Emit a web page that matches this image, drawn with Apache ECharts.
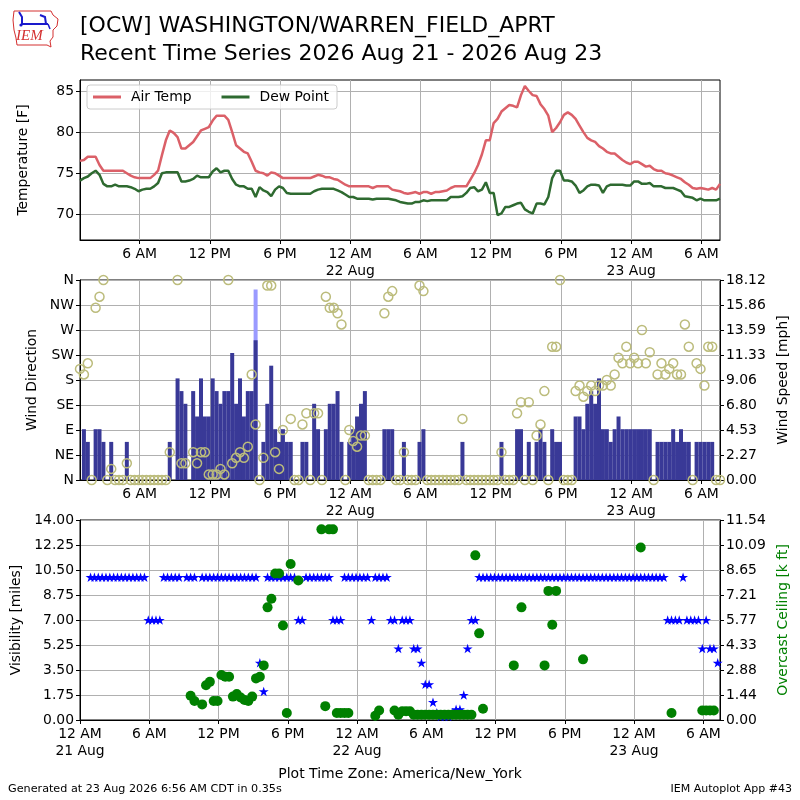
<!DOCTYPE html>
<html><head><meta charset="utf-8">
<script src="https://cdn.jsdelivr.net/npm/echarts@6/dist/echarts.min.js"></script>
<style>html,body{margin:0;padding:0;background:#fff}#c{width:800px;height:800px}</style>
</head><body><div id="c"></div><script>
// ---- observation clock: AWOS reports every 20 minutes, first at 00:55 EDT 21 Aug ----
const obsStartHour = 0.9167;   // hours after 00:00 21 Aug
const obsStepHour = 1 / 3;

// ---- x-axis ticks (hours after 00:00 21 Aug) ----
const tickHours = [0, 6, 12, 18, 24, 30, 36, 42, 48, 54];
const tickLabels = ['12 AM\n21 Aug', '6 AM', '12 PM', '6 PM', '12 AM\n22 Aug', '6 AM', '12 PM', '6 PM', '12 AM\n23 Aug', '6 AM'];

// ---- panel 1: temperature [F] ----
const tempTicks = [70, 75, 80, 85];
const airTemp = [
 76.5,76.6,77.0,77.0,77.0,76.0,75.3,75.3,75.3,75.3,
 75.3,75.3,75.0,74.7,74.5,74.4,74.4,74.4,74.4,74.8,
 75.3,77.2,79.0,80.2,79.9,79.4,78.0,78.0,78.4,78.8,
 79.5,80.2,80.4,80.6,81.4,82.0,82.0,82.0,81.5,80.0,
 78.4,78.0,77.6,77.4,76.4,75.3,75.1,75.0,74.7,75.1,
 75.0,74.7,74.4,74.4,74.4,74.4,74.4,74.4,74.4,74.4,
 74.6,74.8,74.7,74.5,74.5,74.3,74.2,73.9,73.6,73.4,
 73.4,73.4,73.4,73.4,73.4,73.2,73.4,73.4,73.4,73.4,
 73.0,72.9,72.8,72.6,72.5,72.6,72.7,72.5,72.7,72.7,
 72.5,72.7,72.7,72.8,72.9,73.2,73.4,73.4,73.4,73.4,
 74.2,75.0,76.0,77.3,79.0,79.0,81.1,81.6,82.5,82.9,
 83.3,83.2,83.0,84.5,85.6,85.0,84.5,84.4,83.4,82.8,
 82.0,80.0,80.5,81.2,82.1,82.4,82.1,81.6,80.8,80.0,
 79.3,79.0,78.8,78.3,78.0,77.6,77.4,77.4,77.0,76.6,
 76.3,76.1,76.4,76.4,76.1,75.8,75.9,75.5,75.3,75.3,
 75.0,74.9,74.7,74.5,74.3,73.9,73.6,73.2,73.1,73.2,
 73.1,73.0,73.2,73.0,73.7];
const dewPoint = [
 74.1,74.4,74.6,75.0,75.3,74.8,73.7,73.4,73.4,73.6,
 73.4,73.4,73.4,73.3,73.1,72.8,73.0,73.1,73.1,73.4,
 73.8,75.0,75.1,75.1,75.1,75.1,74.0,74.0,74.1,74.3,
 74.7,74.5,74.5,74.5,75.2,75.6,75.1,75.3,75.3,74.3,
 73.6,73.4,73.4,73.1,73.1,72.1,73.3,72.9,72.7,72.2,
 73.0,73.4,73.2,72.6,72.5,72.5,72.5,72.5,72.5,72.5,
 72.8,73.0,73.1,73.1,73.1,73.1,72.9,72.7,72.4,72.1,
 72.1,71.9,71.9,71.9,71.9,71.8,71.9,71.9,71.9,71.9,
 71.8,71.7,71.5,71.4,71.3,71.3,71.5,71.5,71.7,71.6,
 71.7,71.7,71.7,71.7,71.7,72.1,72.1,72.1,72.2,72.6,
 73.2,73.3,72.8,73.0,73.9,72.6,72.6,69.9,70.1,70.9,
 70.9,71.1,71.3,71.4,70.6,70.3,70.1,71.3,71.3,71.2,
 72.1,74.4,75.3,75.3,74.1,74.1,74.0,73.5,72.6,72.9,
 73.4,73.6,73.6,73.5,72.6,73.4,73.6,73.6,73.6,73.6,
 73.5,73.5,74.0,74.0,73.7,73.7,73.8,73.4,73.4,73.4,
 73.2,73.2,73.2,73.0,72.8,72.2,72.1,72.0,71.7,71.9,
 71.7,71.7,71.7,71.7,71.9];

// ---- panel 2: wind ----
const dirTicks = [0, 45, 90, 135, 180, 225, 270, 315, 360];
const dirLabels = ['N', 'NE', 'E', 'SE', 'S', 'SW', 'W', 'NW', 'N'];
const speedTickLabels = ['0.00', '2.27', '4.53', '6.80', '9.06', '11.33', '13.59', '15.86', '18.12'];
const KT_TO_MPH = 1.15078;
const windKt = [
 0,4,3,0,4,4,3,0,3,0,
 0,0,3,0,0,0,0,0,0,0,
 0,0,0,3,null,8,7,6,null,7,
 5,8,5,5,8,7,6,7,7,10,
 6,8,5,7,7,11,0,3,6,9,
 4,3,4,3,3,0,0,3,3,0,
 6,4,0,4,6,6,7,3,0,3,
 4,5,6,7,0,0,0,0,4,4,
 4,0,0,3,0,0,0,3,4,0,
 0,0,0,0,0,0,0,0,3,0,
 0,0,0,0,0,0,0,0,3,0,
 0,0,4,4,0,3,0,3,4,3,
 0,4,3,3,0,0,0,5,5,4,
 6,7,6,8,4,4,3,4,5,4,
 4,4,4,4,4,4,4,0,3,3,
 3,3,4,3,4,3,3,0,3,3,
 3,3,3,0,0];
const gustKt = [
 null,null,null,null,null,null,null,null,null,null,
 null,null,null,null,null,null,null,null,null,null,
 null,null,null,null,null,null,null,null,null,null,
 null,null,null,null,null,null,null,null,null,null,
 null,null,null,null,null,15,null,null,null,null];
const windDir = [
 200,190,210,0,310,330,360,0,20,0,
 0,0,30,0,0,0,0,0,0,0,
 0,0,0,50,null,360,30,30,null,50,
 30,50,50,10,10,10,20,10,360,30,
 40,50,40,60,190,100,0,40,350,350,
 50,20,90,null,110,0,0,100,120,0,
 120,120,0,330,310,310,300,280,0,90,
 70,60,80,80,0,0,0,0,300,330,
 340,0,0,50,0,0,0,350,340,0,
 0,0,0,0,0,0,0,0,110,0,
 0,0,0,0,0,0,0,0,50,0,
 0,0,120,140,0,140,0,80,100,160,
 0,240,240,360,0,0,0,160,170,150,
 160,170,160,170,170,180,170,190,220,210,
 240,210,220,210,270,210,230,0,190,210,
 190,200,210,190,190,280,240,0,210,200,
 170,240,240,0,0];

// ---- panel 3: visibility [miles] and overcast ceiling [k ft] ----
const visTickLabels = ['0.00', '1.75', '3.50', '5.25', '7.00', '8.75', '10.50', '12.25', '14.00'];
const ceilTickLabels = ['0.00', '1.44', '2.88', '4.33', '5.77', '7.21', '8.65', '10.09', '11.54'];
const visibility = [
 10,10,10,10,10,10,10,10,10,10,
 10,10,10,10,10,7,7,7,7,10,
 10,10,10,10,null,10,10,10,null,10,
 10,10,10,10,10,10,10,10,10,10,
 10,10,10,10,4,2,10,10,10,10,
 10,10,10,10,7,7,10,10,10,10,
 10,10,10,7,7,7,10,10,10,10,
 10,10,10,7,10,10,10,10,7,7,
 5,7,7,7,5,5,4,2.5,2.5,1.25,
 0.5,0.25,0.25,0.25,0.5,0.75,0.75,1.75,5,7,
 7,10,10,10,10,10,10,10,10,10,
 10,10,10,10,10,10,10,10,10,10,
 10,10,10,10,10,10,10,10,10,10,
 10,10,10,10,10,10,10,10,10,10,
 10,10,10,10,10,10,10,10,10,10,
 7,7,7,7,10,7,7,7,7,5,
 7,5,5,4,5];
const ceiling = [
 null,null,null,null,null,null,null,null,null,null,
 null,null,null,null,null,null,null,null,null,null,
 null,null,null,null,null,null,1.4,1.1,null,0.9,
 2.0,2.2,1.1,1.1,2.6,2.5,2.5,1.35,1.5,1.3,
 1.15,1.1,1.35,2.4,2.5,3.15,6.5,7.0,8.45,8.45,
 5.45,0.4,9.0,null,8.05,null,null,null,null,null,
 11.0,0.8,11.0,11.0,0.4,0.4,0.4,0.4,null,null,
 null,null,null,null,0.25,0.55,null,null,null,0.55,
 0.3,0.5,0.5,0.5,0.3,0.3,0.3,0.3,0.3,0.3,
 0.3,0.3,0.3,0.3,0.3,0.3,0.3,0.3,0.3,0.3,
 9.5,5.0,0.65,null,null,null,null,null,null,null,
 3.15,null,6.5,null,null,null,null,null,3.15,7.45,
 5.5,7.45,null,null,null,null,null,null,3.5,null,
 null,null,null,null,null,null,null,null,null,null,
 null,null,null,9.95,null,null,null,null,null,null,
 null,0.4,null,null,null,null,null,null,null,0.55,
 0.55,0.55,0.55,null,null];

// ---------------------------------------------------------------
const obsHours = airTemp.map((_, i) => obsStartHour + i * obsStepHour);
const pairs = (arr, k) => arr.map((v, i) => (v == null ? null : [obsHours[i], v * (k || 1)])).filter(p => p);

const FONT = 'DejaVu Sans';
const SPEED_MAX = 18.12, CEIL_MAX = 11.54, VIS_MAX = 14;
const speedTicks = speedTickLabels.map((_, i) => i * SPEED_MAX / 8);
const visTicks = visTickLabels.map((_, i) => i * VIS_MAX / 8);
const ceilTicks = ceilTickLabels.map((_, i) => i * CEIL_MAX / 8);
const byIndex = (ticks, labels) => v => {
  let best = 0;
  ticks.forEach((t, i) => { if (Math.abs(t - v) < Math.abs(ticks[best] - v)) best = i; });
  return labels[best];
};
const txt = { color: '#000', fontSize: 13.9, fontFamily: FONT };
const gridLine = { show: true, lineStyle: { color: '#b0b0b0', width: 1 } };

function xAxis(gridIndex, min, max) {
  return {
    type: 'value', gridIndex, min, max,
    axisLine: { show: true, onZero: false, lineStyle: { color: '#000' } },
    axisTick: { show: true, length: 4, lineStyle: { color: '#000' }, customValues: tickHours },
    axisLabel: Object.assign({ customValues: tickHours, margin: 6, lineHeight: 17,
      formatter: byIndex(tickHours, tickLabels) }, txt),
    splitLine: gridLine
  };
}
function yAxis(gridIndex, opts) {
  return Object.assign({
    type: 'value', gridIndex,
    axisLine: { show: true, onZero: false, lineStyle: { color: '#000' } },
    axisTick: { show: true, length: 4, lineStyle: { color: '#000' } },
    nameLocation: 'middle', nameRotate: 90,
    nameTextStyle: { color: '#000', fontSize: 13.9, fontFamily: FONT }
  }, opts);
}

const starPath = 'path://M0,-100L22.45,-30.9L95.1,-30.9L36.3,11.8L58.8,80.9L0,38.2L-58.8,80.9L-36.3,11.8L-95.1,-30.9L-22.45,-30.9Z';

const option = {
  animation: false,
  backgroundColor: '#fff',
  textStyle: { fontFamily: FONT },
  grid: [
    { left: 80, top: 80, width: 640, height: 160, show: true, borderColor: '#000', borderWidth: 1, backgroundColor: 'transparent' },
    { left: 80, top: 280, width: 640, height: 200, show: true, borderColor: '#000', borderWidth: 1, backgroundColor: 'transparent' },
    { left: 80, top: 520, width: 640, height: 200, show: true, borderColor: '#000', borderWidth: 1, backgroundColor: 'transparent' }
  ],
  xAxis: [
    xAxis(0, obsHours[0], obsHours[obsHours.length - 1]),
    xAxis(1, obsHours[0], obsHours[obsHours.length - 1]),
    xAxis(2, 0, 55.45)
  ],
  yAxis: [
    yAxis(0, { min: 66.87, max: 86.34, name: 'Temperature [F]', nameGap: 50,
      axisTick: { show: true, length: 4, lineStyle: { color: '#000' }, customValues: tempTicks },
      axisLabel: Object.assign({ customValues: tempTicks, margin: 6 }, txt), splitLine: gridLine }),
    yAxis(1, { min: 0, max: 360, interval: 45, name: 'Wind Direction', nameGap: 40,
      axisLabel: Object.assign({ margin: 6, formatter: byIndex(dirTicks, dirLabels) }, txt), splitLine: gridLine }),
    yAxis(1, { position: 'right', min: 0, max: SPEED_MAX, name: 'Wind Speed [mph]', nameGap: 50,
      axisTick: { show: true, length: 4, lineStyle: { color: '#000' }, customValues: speedTicks },
      axisLabel: Object.assign({ customValues: speedTicks, margin: 6, formatter: byIndex(speedTicks, speedTickLabels) }, txt),
      splitLine: { show: false } }),
    yAxis(2, { min: 0, max: VIS_MAX, name: 'Visibility [miles]', nameGap: 55,
      axisTick: { show: true, length: 4, lineStyle: { color: '#000' }, customValues: visTicks },
      axisLabel: Object.assign({ customValues: visTicks, margin: 6, formatter: byIndex(visTicks, visTickLabels) }, txt),
      splitLine: gridLine }),
    yAxis(2, { position: 'right', min: 0, max: CEIL_MAX, name: 'Overcast Ceiling [k ft]', nameGap: 50,
      nameTextStyle: { color: '#008000', fontSize: 13.9, fontFamily: FONT },
      axisTick: { show: true, length: 4, lineStyle: { color: '#000' }, customValues: ceilTicks },
      axisLabel: Object.assign({ customValues: ceilTicks, margin: 6, formatter: byIndex(ceilTicks, ceilTickLabels) }, txt),
      splitLine: { show: false } })
  ],
  legend: {
    left: 87, top: 85, itemWidth: 28, itemHeight: 3, itemGap: 30,
    padding: [5, 8, 5, 6], borderColor: '#cccccc', borderWidth: 1, borderRadius: 3,
    backgroundColor: 'rgba(255,255,255,0.8)',
    textStyle: { fontSize: 13.9, color: '#000', fontFamily: FONT, padding: [0, 0, 0, 5] },
    data: [{ name: 'Air Temp', icon: 'rect' }, { name: 'Dew Point', icon: 'rect' }]
  },
  series: [
    { name: 'Air Temp', type: 'line', xAxisIndex: 0, yAxisIndex: 0, symbol: 'none', data: pairs(airTemp),
      lineStyle: { color: '#db6068', width: 2.5 }, itemStyle: { color: '#db6068' } },
    { name: 'Dew Point', type: 'line', xAxisIndex: 0, yAxisIndex: 0, symbol: 'none', data: pairs(dewPoint),
      lineStyle: { color: '#2e6a30', width: 2.5 }, itemStyle: { color: '#2e6a30' } },
    { name: 'Gust', type: 'bar', xAxisIndex: 1, yAxisIndex: 2, data: pairs(gustKt, KT_TO_MPH),
      barWidth: 4, barGap: '-100%', itemStyle: { color: '#9a9aff', opacity: 1 } },
    { name: 'Wind Speed', type: 'bar', xAxisIndex: 1, yAxisIndex: 2, data: pairs(windKt, KT_TO_MPH),
      barWidth: 4, barGap: '-100%', itemStyle: { color: '#393997', opacity: 1 } },
    { name: 'Wind Direction', type: 'scatter', xAxisIndex: 1, yAxisIndex: 1, data: pairs(windDir),
      symbol: 'circle', symbolSize: 9,
      itemStyle: { color: 'rgba(0,0,0,0)', borderColor: '#bcbc7c', borderWidth: 1.5, opacity: 1 } },
    { name: 'Visibility', type: 'scatter', xAxisIndex: 2, yAxisIndex: 3, data: pairs(visibility),
      symbol: starPath, symbolKeepAspect: true, symbolSize: 10, itemStyle: { color: '#0000ff', opacity: 1 } },
    { name: 'Ceiling', type: 'scatter', xAxisIndex: 2, yAxisIndex: 4, data: pairs(ceiling),
      symbol: 'circle', symbolSize: 10, itemStyle: { color: '#008000', opacity: 1 } }
  ],
  graphic: [
    { type: 'text', left: 80, top: 15, style: { text: '[OCW] WASHINGTON/WARREN_FIELD_APRT', fontSize: 22, fontFamily: FONT, fill: '#000' } },
    { type: 'text', left: 80, top: 43, style: { text: 'Recent Time Series 2026 Aug 21 - 2026 Aug 23', fontSize: 22, fontFamily: FONT, fill: '#000' } },
    { type: 'text', left: 'center', top: 767, style: { text: 'Plot Time Zone: America/New_York', fontSize: 14, fontFamily: FONT, fill: '#000' } },
    { type: 'text', left: 8, top: 784, style: { text: 'Generated at 23 Aug 2026 6:56 AM CDT in 0.35s', fontSize: 11.2, fontFamily: FONT, fill: '#000' } },
    { type: 'text', right: 8, top: 784, style: { text: 'IEM Autoplot App #43', fontSize: 11, fontFamily: FONT, fill: '#000' } },
    // IEM logo
    { type: 'polyline', shape: { points: [[14,11],[51,11],[53,15],[58,19],[57,26],[53,30],[53,37],[50,41],[51,47],[47,45],[17,45],[16,38],[14,30],[13,20],[14,11]] },
      style: { stroke: '#d43030', lineWidth: 1, fill: 'none' } },
    { type: 'text', left: 16, top: 29, style: { text: 'IEM', fontSize: 15, fontStyle: 'italic', fontFamily: 'Liberation Serif', fill: '#d43030' } },
    { type: 'polyline', shape: { points: [[19,12],[22,17],[22,24],[48,24]] }, style: { stroke: '#1a1acc', lineWidth: 2, fill: 'none' } },
    { type: 'polyline', shape: { points: [[40,15],[45,17],[46,24]] }, style: { stroke: '#1a1acc', lineWidth: 2, fill: 'none' } },
    { type: 'circle', shape: { cx: 21, cy: 25, r: 1.6 }, style: { fill: '#1a1acc' } },
    { type: 'polyline', shape: { points: [[48,24],[50,29]] }, style: { stroke: '#1a1acc', lineWidth: 1.5, fill: 'none' } }
  ]
};
const chart = echarts.init(document.getElementById('c'), null, { renderer: 'canvas' });
chart.setOption(option);
</script></body></html>
